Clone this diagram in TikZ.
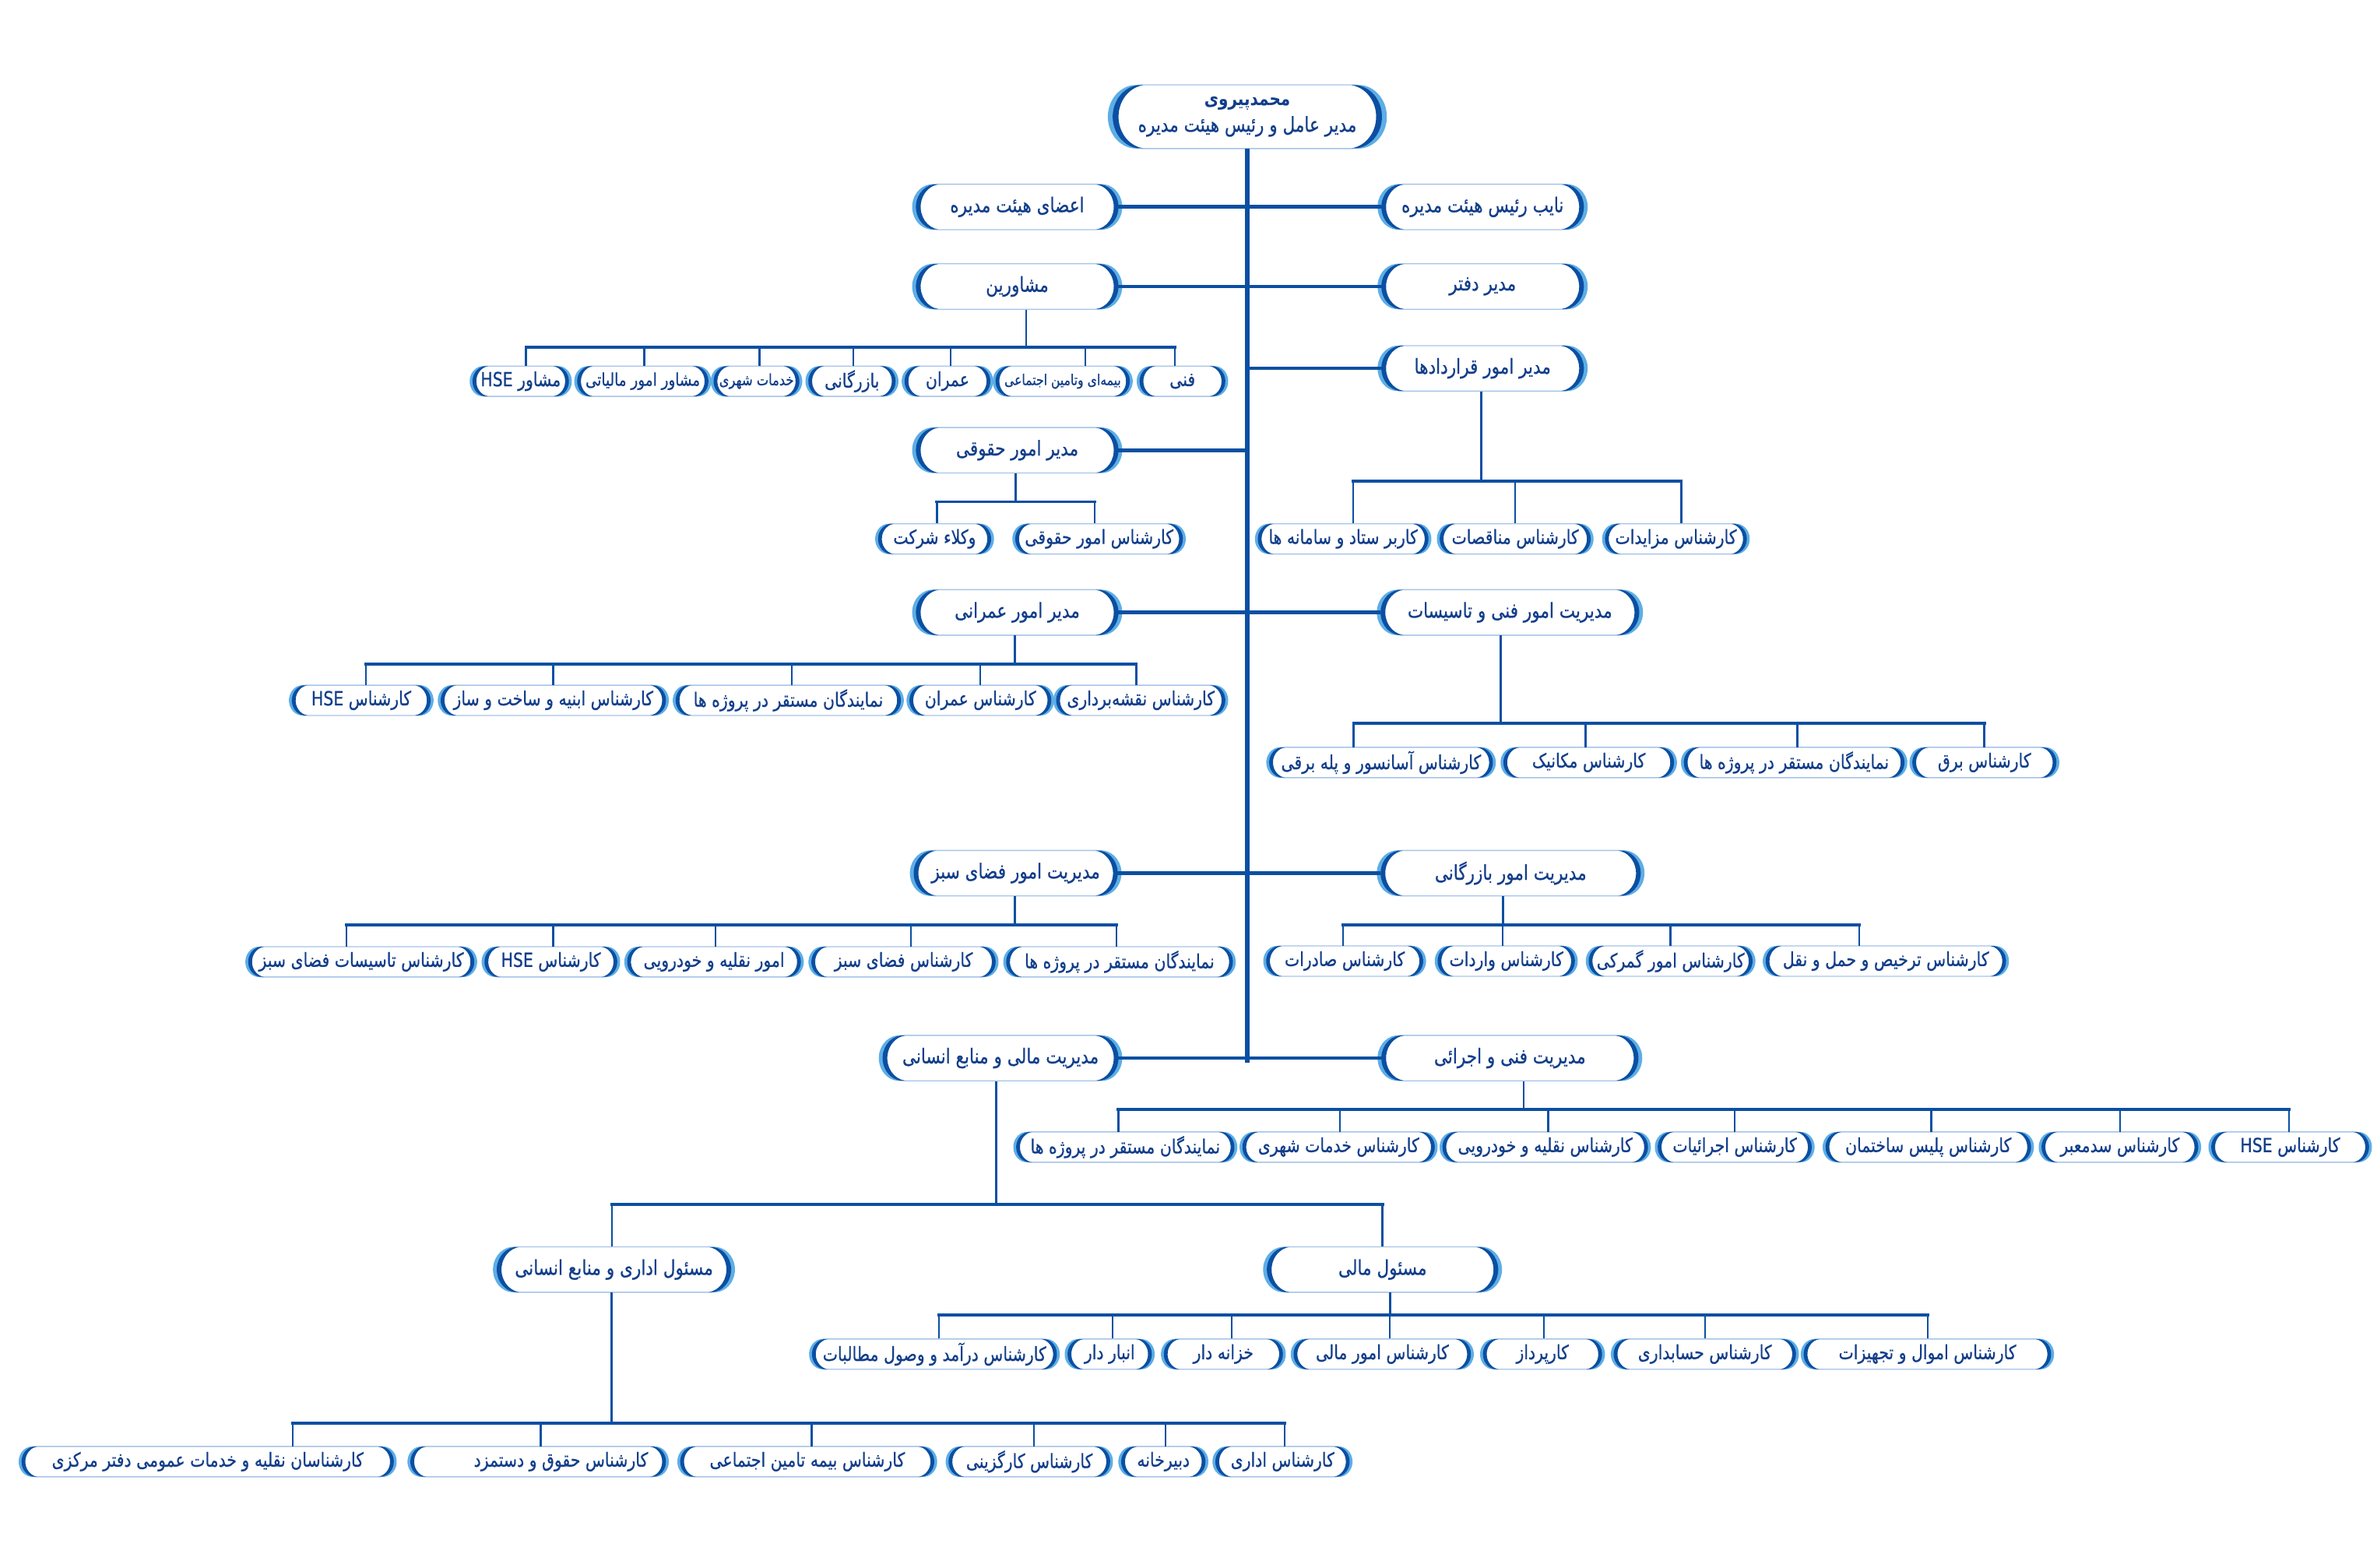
\documentclass[tikz,border=0pt]{standalone}
\usepackage{fontspec}
\usetikzlibrary{calc}
\TeXXeTstate=1
\newfontfamily\faR[Script=Arabic,FakeStretch=0.82,FakeBold=0.7]{DejaVu Sans}
\newfontfamily\faB[Script=Arabic,FakeStretch=0.82]{DejaVu Sans}
\definecolor{lineblue}{HTML}{0B4FA2}
\definecolor{arclight}{HTML}{5DAEE6}
\definecolor{edgec}{HTML}{A6C4E8}
\definecolor{txt}{HTML}{123E8A}
\newcommand\rl[1]{\beginR#1\endR}
\newcommand\ltr[1]{\beginL#1\endL}
\newcommand\mf{\fontsize{13.5}{16}\selectfont}
\newcommand\kf{\fontsize{12.8}{15}\selectfont}
\tikzset{
  boxtext/.style={inner sep=0pt, text=txt, font=\faR, align=center},
  boxedge/.style={draw=edgec, line width=0.7pt},
  trunkline/.style={draw=lineblue, line width=2.8pt},
  rowline/.style={draw=lineblue, line width=2.4pt},
  busline/.style={draw=lineblue, line width=2pt, line cap=rect},
  dropline/.style={draw=lineblue, line width=1.3pt},
}
% name, cx, cy, w, h, font, text
\newcommand\orgbox[7]{%
  \pgfmathsetmacro\obrx{0.45*#5}%
  \pgfmathsetmacro\obry{#5/2}%
  \pgfmathsetmacro\obd{1+0.06*#5}%
  \pgfmathsetmacro\obl{#2-#4/2+\obrx}%
  \pgfmathsetmacro\obr{#2+#4/2-\obrx}%
  \pgfmathsetmacro\obt{#3-#5/2}%
  \pgfmathsetmacro\obb{#3+#5/2}%
  \draw[boxedge] (\obl,\obt) -- (\obr,\obt) arc[start angle=90,end angle=-90,x radius=\obrx pt,y radius=\obry pt] -- (\obl,\obb) arc[start angle=270,end angle=90,x radius=\obrx pt,y radius=\obry pt] -- cycle;
  % light outer crescents
  \fill[arclight] ([shift={(\obl-\obd,#3)}]96:\obrx pt and \obry pt) arc[start angle=96,end angle=264,x radius=\obrx pt,y radius=\obry pt]
     -- ([shift={(\obl,#3)}]264:\obrx pt and \obry pt) arc[start angle=264,end angle=96,x radius=\obrx pt,y radius=\obry pt] -- cycle;
  \fill[arclight] ([shift={(\obr+\obd,#3)}]84:\obrx pt and \obry pt) arc[start angle=84,end angle=-84,x radius=\obrx pt,y radius=\obry pt]
     -- ([shift={(\obr,#3)}]-84:\obrx pt and \obry pt) arc[start angle=-84,end angle=84,x radius=\obrx pt,y radius=\obry pt] -- cycle;
  % dark inner crescents
  \fill[lineblue] ([shift={(\obl-0.3,#3)}]98:\obrx pt and \obry pt) arc[start angle=98,end angle=262,x radius=\obrx pt,y radius=\obry pt]
     -- ([shift={(\obl+\obd,#3)}]262:\obrx pt and \obry pt) arc[start angle=262,end angle=98,x radius=\obrx pt,y radius=\obry pt] -- cycle;
  \fill[lineblue] ([shift={(\obr+0.3,#3)}]82:\obrx pt and \obry pt) arc[start angle=82,end angle=-82,x radius=\obrx pt,y radius=\obry pt]
     -- ([shift={(\obr-\obd,#3)}]-82:\obrx pt and \obry pt) arc[start angle=-82,end angle=82,x radius=\obrx pt,y radius=\obry pt] -- cycle;
  \node[boxtext, minimum width=#4pt, minimum height=#5pt] (#1) at (#2,#3) {#6#7};
}
% kid drop: child, dx, busY
\newcommand\kid[3]{\draw[dropline] let \p1=(#1.north) in (\x1+#2pt,\y1) -- (\x1+#2pt,-#3pt);}
% parent drop: parent, dx, busY
\newcommand\pdrop[3]{\draw[dropline] let \p1=(#1.south) in (\x1+#2pt,\y1) -- (\x1+#2pt,-#3pt);}
% bus: left child, dx, right child, dx, busY
\newcommand\bus[5]{\draw[busline] let \p1=(#1.north), \p2=(#3.north) in (\x1+#2pt,-#5pt) -- (\x2+#4pt,-#5pt);}
\begin{document}
\begin{tikzpicture}[x=1pt,y=-1pt]
\useasboundingbox (0,0) rectangle (1568,1034);
\fill[white] (0,0) rectangle (1568,1034);

% ---------- boxes ----------
\orgbox{top}{822.8}{77}{177}{42}{}{{\faB\fontsize{12.5}{18}\selectfont\bfseries\rl{محمدپیروی}}\\[3pt]{\fontsize{13.5}{18}\selectfont\rl{مدیر عامل و رئیس هیئت مدیره}}}

\orgbox{board}{671}{136.5}{133}{30}{\mf}{\rl{اعضای هیئت مدیره}}
\orgbox{vice}{978}{136.5}{133}{30}{\mf}{\rl{نایب رئیس هیئت مدیره}}
\orgbox{cons}{671}{189}{133}{30}{\mf}{\rl{مشاورین}}
\orgbox{office}{978}{189}{133}{30}{\mf}{\rl{مدیر دفتر}}
\orgbox{contracts}{978}{243}{133}{30}{\mf}{\rl{مدیر امور قراردادها}}
\orgbox{legal}{671}{297}{133}{30}{\mf}{\rl{مدیر امور حقوقی}}
\orgbox{civil}{671}{404}{133}{30}{\mf}{\rl{مدیر امور عمرانی}}
\orgbox{tech}{996}{404}{170}{30}{\mf}{\rl{مدیریت امور فنی و تاسیسات}}
\orgbox{green}{670}{576}{134}{30}{\mf}{\rl{مدیریت امور فضای سبز}}
\orgbox{comm}{996.5}{576}{171}{30}{\mf}{\rl{مدیریت امور بازرگانی}}
\orgbox{fin}{660}{698}{155}{30}{\mf}{\rl{مدیریت مالی و منابع انسانی}}
\orgbox{exec}{996}{698}{169}{30}{\mf}{\rl{مدیریت فنی و اجرائی}}
\orgbox{admin}{405}{837.5}{154}{30}{\mf}{\rl{مسئول اداری و منابع انسانی}}
\orgbox{finr}{912}{837.5}{152}{30}{\mf}{\rl{مسئول مالی}}

% consultants
\orgbox{cs1}{780}{251.5}{56}{20}{\kf}{\rl{فنی}}
\orgbox{cs2}{701}{251.5}{88}{20}{\fontsize{9.8}{11}\selectfont}{\rl{بیمه‌ای وتامین اجتماعی}}
\orgbox{cs3}{625}{251.5}{56}{20}{\kf}{\rl{عمران}}
\orgbox{cs4}{562}{251.5}{57}{20}{\kf}{\rl{بازرگانی}}
\orgbox{cs5}{499}{251.5}{56}{20}{\fontsize{10.2}{11}\selectfont}{\rl{خدمات شهری}}
\orgbox{cs6}{424}{251.5}{86}{20}{\fontsize{11.5}{13}\selectfont}{\rl{مشاور امور مالیاتی}}
\orgbox{cs7}{343.5}{251.5}{63}{20}{\kf}{\rl{مشاور \ltr{HSE}}}

% contracts kids
\orgbox{ct1}{1105.5}{355.5}{93}{20}{\kf}{\rl{کارشناس مزایدات}}
\orgbox{ct2}{999.5}{355.5}{99}{20}{\kf}{\rl{کارشناس مناقصات}}
\orgbox{ct3}{886}{355.5}{112}{20}{\kf}{\rl{کاربر ستاد و سامانه ها}}

% legal kids
\orgbox{lg1}{725}{355.5}{110}{20}{\kf}{\rl{کارشناس امور حقوقی}}
\orgbox{lg2}{616.5}{355.5}{74}{20}{\kf}{\rl{وکلاء شرکت}}

% civil kids
\orgbox{cv1}{752.5}{462}{111}{20}{\kf}{\rl{کارشناس نقشه‌برداری}}
\orgbox{cv2}{646.7}{462}{93}{20}{\kf}{\rl{کارشناس عمران}}
\orgbox{cv3}{520}{462}{148}{20}{\kf}{\rl{نمایندگان مستقر در پروژه ها}}
\orgbox{cv4}{365}{462}{148}{20}{\kf}{\rl{کارشناس ابنیه و ساخت و ساز}}
\orgbox{cv5}{238.3}{462}{91}{20}{\kf}{\rl{کارشناس \ltr{HSE}}}

% tech kids
\orgbox{tc1}{1309}{503}{94.5}{20}{\kf}{\rl{کارشناس برق}}
\orgbox{tc2}{1183.5}{503}{145}{20}{\kf}{\rl{نمایندگان مستقر در پروژه ها}}
\orgbox{tc3}{1048}{503}{112}{20}{\kf}{\rl{کارشناس مکانیک}}
\orgbox{tc4}{911}{503}{147}{20}{\kf}{\rl{کارشناس آسانسور و پله برقی}}

% green kids
\orgbox{gr1}{738.5}{634.5}{149}{20}{\kf}{\rl{نمایندگان مستقر در پروژه ها}}
\orgbox{gr2}{596}{634.5}{121}{20}{\kf}{\rl{کارشناس فضای سبز}}
\orgbox{gr3}{471}{634.5}{114}{20}{\kf}{\rl{امور نقلیه و خودرویی}}
\orgbox{gr4}{363.4}{634.5}{87}{20}{\kf}{\rl{کارشناس \ltr{HSE}}}
\orgbox{gr5}{238.3}{634.5}{148.5}{20}{\kf}{\rl{کارشناس تاسیسات فضای سبز}}

% commerce kids
\orgbox{cm1}{1244}{634}{158}{20}{\kf}{\rl{کارشناس ترخیص و حمل و نقل}}
\orgbox{cm2}{1102}{634}{107.5}{20}{\kf}{\rl{کارشناس امور گمرکی}}
\orgbox{cm3}{993.6}{634}{90}{20}{\kf}{\rl{کارشناس واردات}}
\orgbox{cm4}{887}{634}{103}{20}{\kf}{\rl{کارشناس صادرات}}

% exec kids
\orgbox{ex1}{1510.7}{756.7}{103.5}{20}{\kf}{\rl{کارشناس \ltr{HSE}}}
\orgbox{ex2}{1398.4}{756.7}{102.8}{20}{\kf}{\rl{کارشناس سدمعبر}}
\orgbox{ex3}{1272}{756.7}{135}{20}{\kf}{\rl{کارشناس پلیس ساختمان}}
\orgbox{ex4}{1144.3}{756.7}{101}{20}{\kf}{\rl{کارشناس اجرائیات}}
\orgbox{ex5}{1019.3}{756.7}{135}{20}{\kf}{\rl{کارشناس نقلیه و خودرویی}}
\orgbox{ex6}{883}{756.7}{126.3}{20}{\kf}{\rl{کارشناس خدمات شهری}}
\orgbox{ex7}{742.3}{756.7}{143.4}{20}{\kf}{\rl{نمایندگان مستقر در پروژه ها}}

% finance kids
\orgbox{fn1}{1271.4}{893.3}{162.7}{20}{\kf}{\rl{کارشناس اموال و تجهیزات}}
\orgbox{fn2}{1124.6}{893.3}{119.7}{20}{\kf}{\rl{کارشناس حسابداری}}
\orgbox{fn3}{1017.5}{893.3}{78}{20}{\kf}{\rl{کارپرداز}}
\orgbox{fn4}{911.8}{893.3}{116.4}{20}{\kf}{\rl{کارشناس امور مالی}}
\orgbox{fn5}{807}{893.3}{78}{20}{\kf}{\rl{خزانه دار}}
\orgbox{fn6}{732}{893.3}{55}{20}{\kf}{\rl{انبار دار}}
\orgbox{fn7}{616.4}{893.3}{161}{20}{\kf}{\rl{کارشناس درآمد و وصول مطالبات}}

% admin kids
\orgbox{ad1}{846}{964.2}{88}{20}{\kf}{\rl{کارشناس اداری}}
\orgbox{ad2}{767.4}{964.2}{55}{20}{\kf}{\rl{دبیرخانه}}
\orgbox{ad3}{679}{964.2}{106}{20}{\kf}{\rl{کارشناس کارگزینی}}
\orgbox{ad4}{532.5}{964.2}{167}{20}{\kf}{\rl{کارشناس بیمه تامین اجتماعی}}
\orgbox{ad5}{355}{964.2}{168}{20}{\kf}{\hspace*{30pt}\rl{کارشناس حقوق و دستمزد}}
\orgbox{ad6}{137}{964.2}{245}{20}{\kf}{\rl{کارشناسان نقلیه و خدمات عمومی دفتر مرکزی}}

% ---------- trunk and rows ----------
\coordinate (trunkend) at (822.8,701);
\draw[trunkline] (top.south) -- (trunkend);
\draw[rowline] (board) -- (vice);
\draw[rowline] (cons) -- (office);
\draw[rowline] (contracts.west) -- (contracts.west -| top.south);
\draw[rowline] (legal.east) -- (legal.east -| top.south);
\draw[rowline] (civil) -- (tech);
\draw[rowline] (green) -- (comm);
\draw[rowline] (fin) -- (exec);

% ---------- consultants ----------
\pdrop{cons}{6}{229}
\bus{cs7}{3.5}{cs1}{-5}{229}
\kid{cs1}{-5}{229}\kid{cs2}{15}{229}\kid{cs3}{2}{229}\kid{cs4}{1}{229}
\kid{cs5}{2}{229}\kid{cs6}{1}{229}\kid{cs7}{3.5}{229}

% contracts
\pdrop{contracts}{-1}{317.5}
\bus{ct3}{6.5}{ct1}{3.5}{317.5}
\kid{ct1}{3.5}{317.5}\kid{ct2}{0}{317.5}\kid{ct3}{6.5}{317.5}

% legal
\pdrop{legal}{-1}{331}
\bus{lg2}{1.5}{lg1}{-3}{331}
\kid{lg1}{-3}{331}\kid{lg2}{1.5}{331}

% civil
\pdrop{civil}{-1.6}{438}
\bus{cv5}{3}{cv1}{-3}{438}
\kid{cv1}{-3}{438}\kid{cv2}{0}{438}\kid{cv3}{2.4}{438}\kid{cv4}{0}{438}\kid{cv5}{3}{438}

% tech
\pdrop{tech}{-6}{477}
\bus{tc4}{-18}{tc1}{0}{477}
\kid{tc1}{0}{477}\kid{tc2}{2}{477}\kid{tc3}{-2}{477}\kid{tc4}{-18}{477}

% green
\pdrop{green}{-0.6}{610}
\bus{gr5}{-9.7}{gr1}{-2}{610}
\kid{gr1}{-2}{610}\kid{gr2}{5}{610}\kid{gr3}{1}{610}\kid{gr4}{1.5}{610}\kid{gr5}{-9.7}{610}

% commerce
\pdrop{comm}{-5}{610}
\bus{cm4}{-1}{cm1}{-17.5}{610}
\kid{cm1}{-17.5}{610}\kid{cm2}{0}{610}\kid{cm3}{-2.3}{610}\kid{cm4}{-1}{610}

% exec
\pdrop{exec}{9}{732}
\bus{ex7}{-4.6}{ex1}{-0.7}{732}
\kid{ex1}{-0.7}{732}\kid{ex2}{0}{732}\kid{ex3}{2}{732}\kid{ex4}{0}{732}
\kid{ex5}{2}{732}\kid{ex6}{1}{732}\kid{ex7}{-4.6}{732}

% finance & HR
\pdrop{fin}{-3}{794.4}
\bus{admin}{-1.4}{finr}{0}{794.4}
\kid{admin}{-1.4}{794.4}\kid{finr}{0}{794.4}

% finance officer
\pdrop{finr}{5}{867.6}
\bus{fn7}{3}{fn1}{0.3}{867.6}
\kid{fn1}{0.3}{867.6}\kid{fn2}{0.2}{867.6}\kid{fn3}{1}{867.6}\kid{fn4}{5}{867.6}
\kid{fn5}{5.5}{867.6}\kid{fn6}{2}{867.6}\kid{fn7}{3}{867.6}

% admin officer
\pdrop{admin}{-1.7}{938.7}
\bus{ad6}{56}{ad1}{1.3}{938.7}
\kid{ad1}{1.3}{938.7}\kid{ad2}{1.5}{938.7}\kid{ad3}{3}{938.7}\kid{ad4}{2.8}{938.7}
\kid{ad5}{1.7}{938.7}\kid{ad6}{56}{938.7}
\end{tikzpicture}
\end{document}
